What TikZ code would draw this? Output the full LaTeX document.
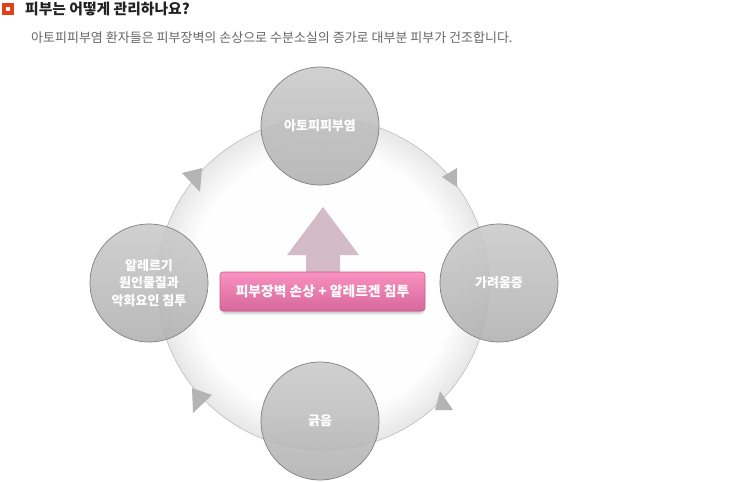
\documentclass[tikz,border=0pt]{standalone}
\usepackage{fontspec}
\setmainfont{Noto Sans CJK KR}
\usepackage{xcolor}
\usepackage{tikz}
\usetikzlibrary{positioning}

\definecolor{markred}{HTML}{E2411A}
\definecolor{titlegray}{HTML}{222222}
\definecolor{subgray}{HTML}{666666}
\definecolor{ringedge}{HTML}{BDBDBD}
\definecolor{ringband}{HTML}{E8E8E8}
\definecolor{stagetop}{HTML}{CACACA}
\definecolor{stagebot}{HTML}{B0B0B0}
\definecolor{stageline}{HTML}{7F7F7F}
\definecolor{tipgray}{HTML}{B4B4B4}
\definecolor{pinktop}{HTML}{F892C0}
\definecolor{pinkbot}{HTML}{D7689B}
\definecolor{pinkline}{HTML}{CC5A8C}
\definecolor{upmauve}{HTML}{D4BCC6}

\begin{document}
\begin{tikzpicture}[x=1pt, y=-1pt,
    stage/.style={circle, draw=stageline, line width=0.7pt,
      top color=stagetop, bottom color=stagebot, fill opacity=0.88,
      text opacity=1, minimum size=118pt, inner sep=0pt, text=white,
      align=center, font=\bfseries\fontsize{13pt}{17.5pt}\selectfont},
    tip/.style={fill=tipgray, draw=none},
    softshadow/.style={fill=black, opacity=0.06, rounded corners=4pt},
    barrier/.style={rounded corners=3pt, draw=pinkline, line width=0.6pt,
      top color=pinktop, bottom color=pinkbot, minimum width=205pt,
      minimum height=39pt, text=white,
      font=\bfseries\fontsize{13.8pt}{16pt}\selectfont}]
    \useasboundingbox (0,0) rectangle (740,482);

    % heading
    \node (mark) [fill=markred, minimum size=12pt, inner sep=0pt] at (8,9) {};
    \node (markdot) [fill=white, minimum size=4pt, inner sep=0pt] at (mark) {};
    \node (title) [anchor=west, inner sep=0pt, text=titlegray,
      font=\bfseries\fontsize{14.8pt}{16pt}\selectfont] at (25,9) {피부는 어떻게 관리하나요?};
    \node (subtitle) [anchor=west, inner sep=0pt, text=subgray,
      font=\fontsize{13pt}{15pt}\selectfont] at (31,38)
      {아토피피부염 환자들은 피부장벽의 손상으로 수분소실의 증가로 대부분 피부가 건조합니다.};

    % cycle ring
    \coordinate (hub) at (323,284);
    \foreach \k [evaluate=\k as \rr using 166-2*\k,
                 evaluate=\k as \cc using int(100-6*\k)] in {0,...,16}
      \fill[ringband!\cc!white] (hub) circle [radius=\rr pt];
    \draw[ringedge, line width=0.6pt] (hub) circle [radius=166pt];

    \fill[tip] (182,173) -- (202,168) -- (200,192) -- cycle;
    \fill[tip] (442,177) -- (457,168) -- (457,187) -- cycle;
    \fill[tip] (440,391) -- (435,410) -- (453,410) -- cycle;
    \fill[tip] (192,388) -- (212,395) -- (193,413) -- cycle;

    % center arrow and box
    \fill[upmauve] (306,280) -- (306,255) -- (287,255) -- (323,207)
      -- (359,255) -- (340,255) -- (340,280) -- cycle;
    \foreach \s in {0,1,2,3}
      \fill[softshadow] (222-\s*0.5,280) rectangle (423+\s*0.5,312+\s);
    \node (barrier) [barrier] at (322.5,291.5) {피부장벽 손상 + 알레르겐 침투};

    % stages
    \node (atopy) [stage] at (320,126) {아토피피부염};
    \node (itch) [stage] at (499,283) {가려움증};
    \node (scratch) [stage] at (320,421) {긁음};
    \node (allergen) [stage] at (149,283) {알레르기\\원인물질과\\악화요인 침투};
\end{tikzpicture}
\end{document}
